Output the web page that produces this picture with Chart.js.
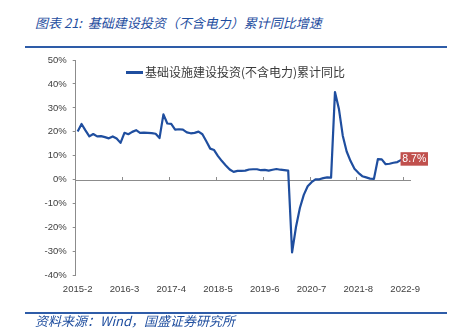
<!DOCTYPE html>
<html><head><meta charset="utf-8">
<script src="https://cdn.jsdelivr.net/npm/chart.js@4/dist/chart.umd.min.js"></script>
<style>
html,body{margin:0;padding:0;background:#fff;}
#wrap{position:relative;width:450px;height:335px;overflow:hidden;background:#fff;}
#c{position:absolute;left:0;top:0;}
.t{position:absolute;font-family:'Noto Sans CJK SC',sans-serif;font-style:italic;color:#1F4E9F;white-space:nowrap;}
#title{left:35px;top:15px;font-size:13px;line-height:16px;}
#foot{left:35px;top:313px;font-size:13px;line-height:16px;}
.rule{position:absolute;left:25px;width:422px;height:2px;background:#2E5CA8;}
#legend{position:absolute;left:126px;top:64px;font-family:'Noto Sans CJK SC',sans-serif;font-size:12px;color:#3a3a3a;line-height:16px;white-space:nowrap;}
#legend .sw{display:inline-block;width:17px;height:2.5px;vertical-align:middle;margin-right:2px;position:relative;top:-1px;}
</style></head>
<body>
<div id="wrap">
  <div class="t" id="title">图表 21:&nbsp;&nbsp;基础建设投资（不含电力）累计同比增速</div>
  <div class="rule" style="top:46px"></div>
  <canvas id="c" width="450" height="335"></canvas>
  <div id="legend"></div>
  <div class="rule" style="top:312px"></div>
  <div class="t" id="foot">资料来源：Wind，国盛证券研究所</div>
</div>
<script>
const seriesName = '基础设施建设投资(不含电力)累计同比';
const categories = [
 '2015-2','2015-3','2015-4','2015-5','2015-6','2015-7','2015-8','2015-9','2015-10','2015-11','2015-12',
 '2016-2','2016-3','2016-4','2016-5','2016-6','2016-7','2016-8','2016-9','2016-10','2016-11','2016-12',
 '2017-2','2017-3','2017-4','2017-5','2017-6','2017-7','2017-8','2017-9','2017-10','2017-11','2017-12',
 '2018-2','2018-3','2018-4','2018-5','2018-6','2018-7','2018-8','2018-9','2018-10','2018-11','2018-12',
 '2019-2','2019-3','2019-4','2019-5','2019-6','2019-7','2019-8','2019-9','2019-10','2019-11','2019-12',
 '2020-2','2020-3','2020-4','2020-5','2020-6','2020-7','2020-8','2020-9','2020-10','2020-11','2020-12',
 '2021-2','2021-3','2021-4','2021-5','2021-6','2021-7','2021-8','2021-9','2021-10','2021-11','2021-12',
 '2022-2','2022-3','2022-4','2022-5','2022-6','2022-7','2022-8','2022-9','2022-10'
];
const values = [
 20.2,23.3,20.6,18.1,19.1,18.1,18.2,17.8,17.3,18.1,17.2,
 15.4,19.6,19.0,20.0,20.7,19.6,19.7,19.6,19.5,19.2,17.4,
 27.3,23.5,23.3,20.9,21.1,20.9,19.8,19.4,19.6,20.1,19.0,
 16.1,13.0,12.4,9.9,7.8,6.0,4.3,3.3,3.7,3.7,3.8,
 4.3,4.4,4.4,4.0,4.1,3.8,4.2,4.5,4.2,4.0,3.8,
 -30.3,-19.7,-11.8,-6.3,-2.7,-1.0,0.2,0.2,0.7,1.0,0.9,
 36.6,29.7,18.4,11.8,7.8,4.6,2.9,1.5,1.0,0.5,0.4,
 8.6,8.5,6.5,6.7,7.1,7.4,8.3,8.6,8.7
];
const yTicks = {min:-40, max:50, step:10};
const labelEvery = 12;
const lineColor = '#1F4E9F';
const axisColor = '#8c8c8c';
const tagColor = '#C0504D';

document.getElementById('legend').innerHTML =
  '<span class="sw" style="background:'+lineColor+'"></span>'+seriesName;

const zeroAxis = {
  id:'zeroAxis',
  beforeDatasetsDraw(chart){
    const {ctx, chartArea:a, scales:{x,y}} = chart;
    const y0 = Math.round(y.getPixelForValue(0)) + 0.5;
    ctx.save();
    ctx.strokeStyle = axisColor; ctx.lineWidth = 1;
    ctx.beginPath();
    ctx.moveTo(a.left, y0); ctx.lineTo(a.right, y0);
    for (let i = labelEvery; i < categories.length; i += labelEvery){
      const px = Math.round((x.getPixelForValue(i-1) + x.getPixelForValue(i))/2) + 0.5;
      ctx.moveTo(px, y0); ctx.lineTo(px, y0 - 3.5);
    }
    ctx.stroke();
    ctx.restore();
  }
};
const lastTag = {
  id:'lastTag',
  afterDatasetsDraw(chart){
    const {ctx} = chart;
    const meta = chart.getDatasetMeta(0);
    const n = values.length - 1;
    const pt = meta.data[n];
    const txt = values[n].toFixed(1) + '%';
    ctx.save();
    ctx.font = '10.5px "Liberation Sans", Arial, sans-serif';
    const w = ctx.measureText(txt).width + 3.5;
    const h = 13.5;
    const bx = pt.x - 8.5, by = pt.y - h/2;
    ctx.fillStyle = tagColor;
    ctx.fillRect(bx, by, w, h);
    ctx.fillStyle = '#fff';
    ctx.textBaseline = 'middle';
    ctx.textAlign = 'left';
    ctx.fillText(txt, bx + 1.8, pt.y + 0.5);
    ctx.restore();
  }
};

Chart.defaults.font.family = '"Liberation Sans", Arial, sans-serif';
new Chart(document.getElementById('c'), {
  type:'line',
  data:{labels:categories, datasets:[{label:seriesName, data:values, borderColor:lineColor, borderWidth:2.2, pointRadius:0, tension:0, fill:false, borderJoinStyle:'round'}]},
  options:{
    responsive:false, animation:false, devicePixelRatio:1,
    layout:{padding:{left:0,right:39,top:60,bottom:0}},
    plugins:{legend:{display:false}, tooltip:{enabled:false}},
    scales:{
      x:{type:'category', offset:true,
         grid:{display:false, drawTicks:false, offset:true},
         border:{display:false},
         ticks:{autoSkip:false, maxRotation:0, minRotation:0, padding:8, color:'#404040', font:{size:9.5},
           callback:function(v,i){ return i % labelEvery === 0 ? this.getLabelForValue(v) : null; }},
         afterFit:s=>{ s.height = 59.4; }},
      y:{min:yTicks.min, max:yTicks.max,
         ticks:{stepSize:yTicks.step, color:'#404040', font:{size:9.5}, padding:6, callback:v=>v+'%'},
         grid:{drawOnChartArea:false, drawTicks:true, tickLength:3, color:axisColor},
         border:{color:axisColor},
         afterFit:s=>{ s.width = 75.7; }}
    }
  },
  plugins:[zeroAxis, lastTag]
});
</script>
</body></html>
